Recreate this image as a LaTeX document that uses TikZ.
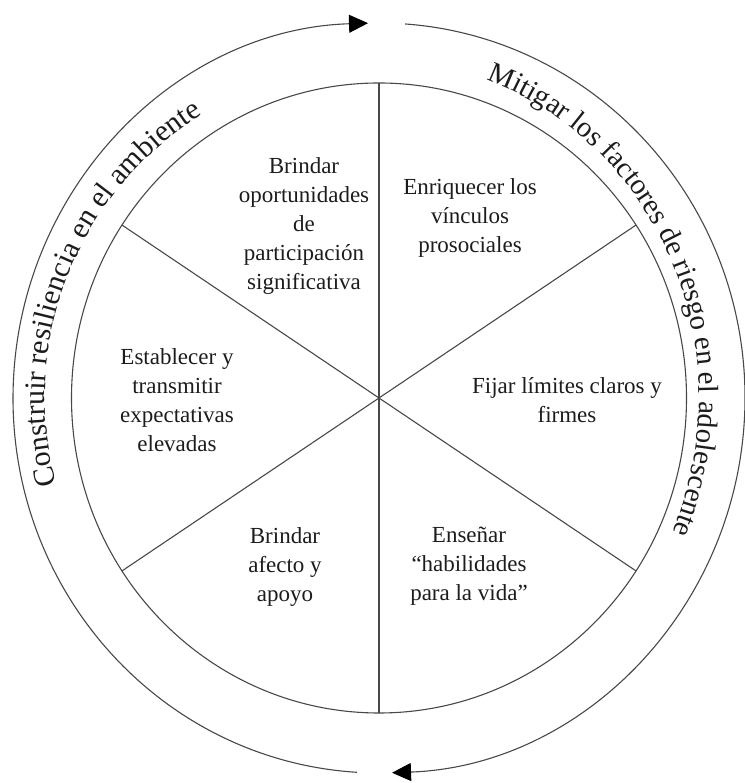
\documentclass[tikz,border=0pt]{standalone}
\usepackage{fontspec}
\setmainfont{Liberation Serif}
\usetikzlibrary{arrows.meta,decorations.text}
\definecolor{linec}{RGB}{72,72,72}
\definecolor{txtc}{RGB}{28,28,28}
\begin{document}
\begin{tikzpicture}[x=1pt,y=1pt,
  ring/.style={draw=linec, line width=1.1pt},
  spoke/.style={draw=linec, line width=1.1pt},
  sector/.style={align=center, font=\fontsize{23}{29}\selectfont, text=txtc, inner sep=0pt},
  flow/.style={draw=linec, line width=1.1pt, -{Triangle[length=19pt,width=18pt,color=black]}}]
\useasboundingbox (0,0) rectangle (744,783);
\coordinate (C) at (379,385);
% inner wheel
\draw[ring] (C) ellipse [x radius=307.5pt, y radius=315pt];
\coordinate (pT) at ([shift={(90:307.5pt and 315pt)}]C);
\coordinate (pB) at ([shift={(270:307.5pt and 315pt)}]C);
\coordinate (pTR) at ([shift={(33.3:307.5pt and 315pt)}]C);
\coordinate (pBL) at ([shift={(213.3:307.5pt and 315pt)}]C);
\coordinate (pTL) at ([shift={(146.7:307.5pt and 315pt)}]C);
\coordinate (pBR) at ([shift={(326.7:307.5pt and 315pt)}]C);
\draw[spoke] (pT) -- (pB);
\draw[spoke] (pTR) -- (pBL);
\draw[spoke] (pTL) -- (pBR);
% outer arrows
\coordinate (oLs) at ([shift={(266.55:366pt and 375pt)}]C);
\coordinate (oRs) at ([shift={(85.9:366pt and 375pt)}]C);
\draw[flow] (oLs) arc[start angle=266.55, end angle=91.72, x radius=366pt, y radius=375pt];
\draw[flow] (oRs) arc[start angle=85.9, end angle=-87.96, x radius=366pt, y radius=375pt];
% curved labels
\path[decorate, decoration={text along path, text color=txtc,
   text={|\fontsize{30}{36}\selectfont|Construir resiliencia en el ambiente}, text align=center}]
   ([shift={(200:334pt)}]C) arc[start angle=200, end angle=117, radius=334pt];
\path[decorate, decoration={text along path, text color=txtc,
   text={|\fontsize{29}{35}\selectfont|Mitigar los factores de riesgo en el adolescente}, text align=center}]
   ([shift={(75:320pt and 338pt)}]C) arc[start angle=75, end angle=-28, x radius=320pt, y radius=338pt];
% sector texts
\node[sector] (s1) at (304,557.3) {Brindar\\oportunidades\\de\\participación\\significativa};
\node[sector] (s2) at (470,565.3) {Enriquecer los\\vínculos\\prosociales};
\node[sector] (s3) at (177,383.3) {Establecer y\\transmitir\\expectativas\\elevadas};
\node[sector] (s4) at (567,383.3) {Fijar límites claros y\\firmes};
\node[sector] (s5) at (285,216.3) {Brindar\\afecto y\\apoyo};
\node[sector] (s6) at (469,216.3) {Enseñar\\“habilidades\\para la vida”};
\end{tikzpicture}
\end{document}
